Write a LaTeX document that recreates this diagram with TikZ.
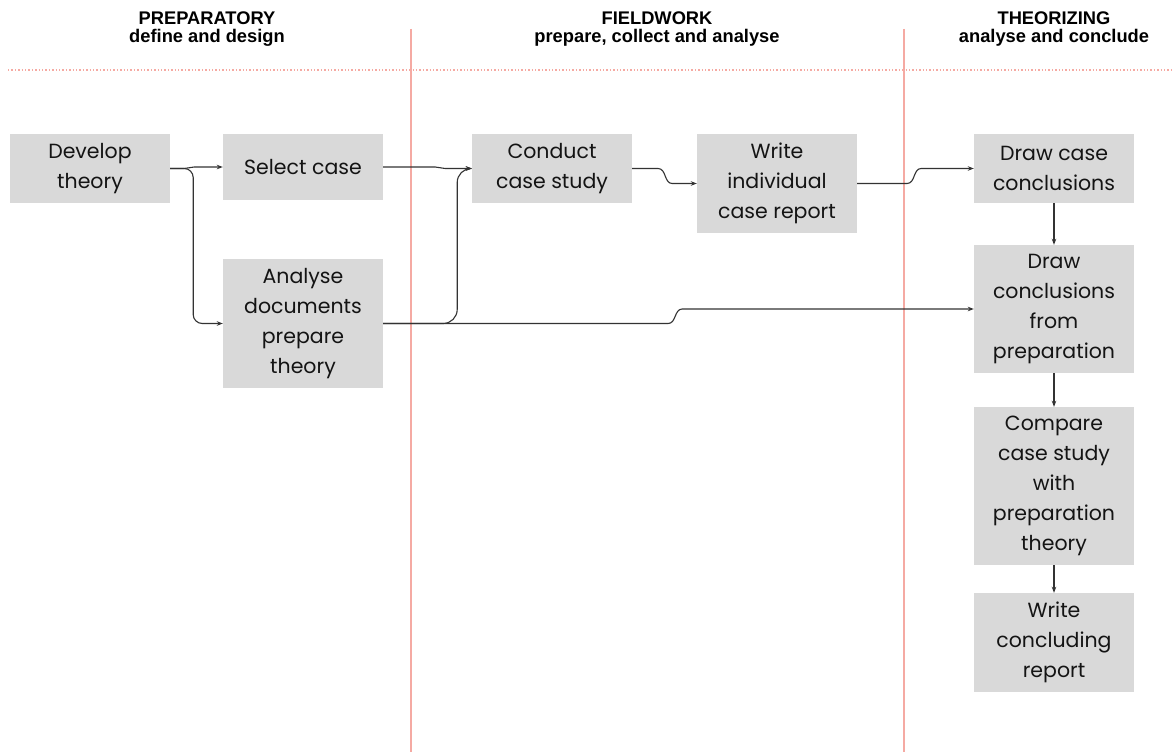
\documentclass[tikz,border=0pt]{standalone}
\usepackage{fontspec}
\setmainfont{Poppins}
\newfontfamily\headfont{Liberation Sans}
\usetikzlibrary{arrows.meta,calc}

\definecolor{boxgray}{HTML}{D9D9D9}
\definecolor{inkdark}{HTML}{141414}
\definecolor{wire}{HTML}{333333}
\definecolor{phase}{HTML}{F5AAA3}

\tikzset{
  stepbox/.style={fill=boxgray, draw=none, minimum width=160pt, inner sep=0pt,
    align=center, text=inkdark, font=\fontsize{20.5}{30}\selectfont},
  conn/.style={draw=wire, line width=1.1pt,
    -{Stealth[length=6pt,width=4.5pt]}},
  phasetitle/.style={anchor=base, font=\headfont\bfseries\fontsize{18.3}{19}\selectfont, text=black, inner sep=0pt},
  phaseline/.style={draw=phase, line width=1.4pt},
}

\begin{document}
\begin{tikzpicture}[x=1pt, y=-1pt]
\useasboundingbox[fill=white] (0,0) rectangle (1173,752);

% phase separators
\draw[phaseline, dotted, line width=1.2pt] (8,70) -- (1173,70);
\draw[phaseline] (411,29) -- (411,752);
\draw[phaseline] (904,29) -- (904,752);

% phase headings
\node[phasetitle] (h1a) at (207,25) {PREPARATORY};
\node[phasetitle] (h1b) at (207,43) {define and design};
\node[phasetitle] (h2a) at (657,25) {FIELDWORK};
\node[phasetitle] (h2b) at (657,43) {prepare, collect and analyse};
\node[phasetitle] (h3a) at (1054,25) {THEORIZING};
\node[phasetitle] (h3b) at (1054,43) {analyse and conclude};

% process steps
\node[stepbox, minimum height=69pt]  (dev)  at (90,168.5)  {Develop\\theory};
\node[stepbox, minimum height=66pt]  (sel)  at (303,167)   {Select case};
\node[stepbox, minimum height=129pt] (ana)  at (303,323.5) {Analyse\\documents\\prepare\\theory};
\node[stepbox, minimum height=69pt]  (cond) at (552,168.5) {Conduct\\case study};
\node[stepbox, minimum height=99pt]  (wic)  at (777,183.5) {Write\\individual\\case report};
\node[stepbox, minimum height=69pt]  (dcc)  at (1054,168.5) {Draw case\\conclusions};
\node[stepbox, minimum height=128pt] (dcp)  at (1054,309)  {Draw\\conclusions\\from\\preparation};
\node[stepbox, minimum height=158pt] (cmp)  at (1054,486)  {Compare\\case study\\with\\preparation\\theory};
\node[stepbox, minimum height=99pt]  (wcr)  at (1054,642.5) {Write\\concluding\\report};

% connectors with small S-shaped jogs
\draw[conn] (dev.east) -- ++(14,0) coordinate (j1)
  to[out=0,in=180] ($(j1 |- sel.west)+(10,0)$) -- (sel.west);
\draw[conn, rounded corners=9pt] (dev.east) -- ++(23,0) |- (ana.west);

\draw[conn] (sel.east) -- ++(52,0) coordinate (j2)
  to[out=0,in=180] ($(j2 |- cond.west)+(10,0)$) -- (cond.west);
\draw[conn, rounded corners=14pt] (ana.east) -- ++(74,0) |- (cond.west);

\draw[conn] (ana.east) -- ++(285,0) coordinate (j3)
  to[out=0,in=180] ($(j3 |- dcp.west)+(14,0)$) -- (dcp.west);

\draw[conn] (cond.east) -- ++(26,0) coordinate (j4)
  to[out=0,in=180] ($(j4 |- wic.west)+(14,0)$) -- (wic.west);
\draw[conn] (wic.east) -- ++(50,0) coordinate (j5)
  to[out=0,in=180] ($(j5 |- dcc.west)+(14,0)$) -- (dcc.west);

% vertical chain in the last phase
\draw[conn] (dcc.south) -- (dcp.north);
\draw[conn] (dcp.south) -- (cmp.north);
\draw[conn] (cmp.south) -- (wcr.north);
\end{tikzpicture}
\end{document}
